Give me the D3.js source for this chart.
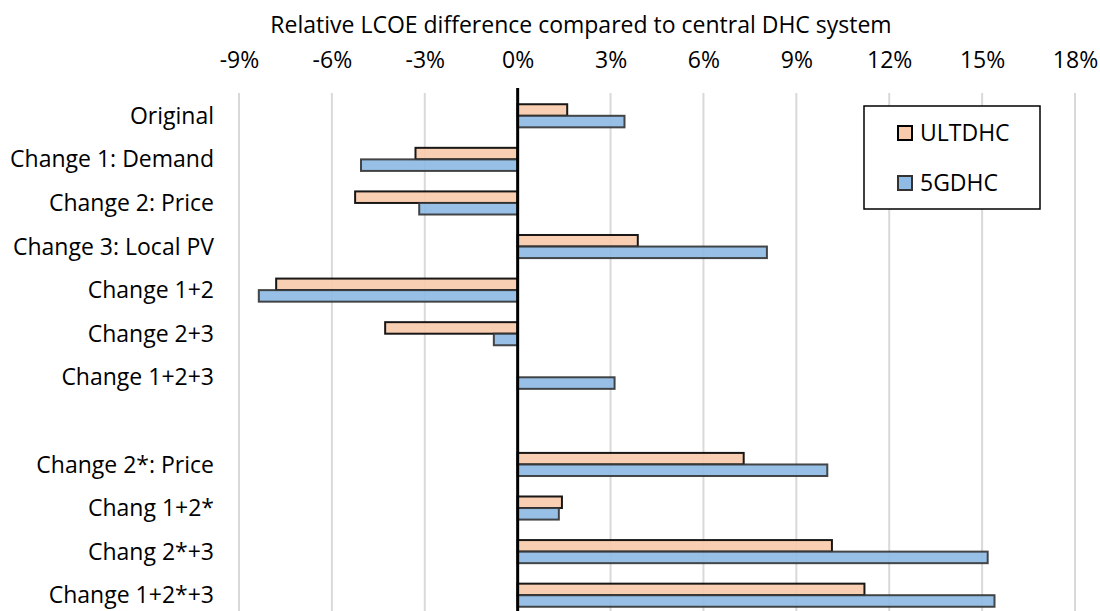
<!DOCTYPE html>
<html><head><meta charset="utf-8">
<script src="https://cdn.jsdelivr.net/npm/d3@7"></script>
<style>body{margin:0;background:#fff;} svg{display:block;}</style>
</head><body>
<svg id="c" width="1100" height="611"></svg>
<script>
const categories = ["Original","Change 1: Demand","Change 2: Price","Change 3: Local PV","Change 1+2","Change 2+3","Change 1+2+3"," ","Change 2*: Price","Chang 1+2*","Chang 2*+3","Change 1+2*+3"];
const ultdhc = [1.6,-3.3,-5.25,3.88,-7.8,-4.28,0,null,7.3,1.43,10.15,11.2];
const gdhc5 = [3.45,-5.06,-3.18,8.05,-8.36,-0.77,3.13,null,10.0,1.33,15.18,15.4];
const seriesNames = ["ULTDHC","5GDHC"];
const tickValues = [-9,-6,-3,0,3,6,9,12,15,18];
const title = "Relative LCOE difference compared to central DHC system";
const colors = ["#f8cbad","#8fbbe5"];
const strokes = ["#000000","#333333"];

const font = "'Open Sans', sans-serif";
const fs = 23;
const svg = d3.select("#c");
const x = d3.scaleLinear().domain([-9,18]).range([239,1075]);
const y = d3.scaleBand().domain(categories).range([94,617]).paddingInner(0.47).paddingOuter(0.235);
const sub = d3.scaleBand().domain(seriesNames).range([0,y.bandwidth()]);

// gridlines
svg.append("g").selectAll("line").data(tickValues.filter(d=>d!==0)).join("line")
  .attr("x1",d=>x(d)).attr("x2",d=>x(d)).attr("y1",93).attr("y2",611)
  .attr("stroke","#d9d9d9").attr("stroke-width",2);

// top axis labels
const ax = svg.append("g").attr("transform","translate(0,60)")
  .call(d3.axisTop(x).tickValues(tickValues).tickFormat(d=>d+"%").tickSize(0).tickPadding(0));
ax.select(".domain").remove();
ax.selectAll("text").attr("font-family",font).attr("font-size",fs).attr("fill","#000").attr("dy","0.35em");

svg.append("text").attr("x",581).attr("y",25).attr("dy","0.35em").attr("text-anchor","middle")
  .attr("font-family",font).attr("font-size",fs).text(title);

// category labels
svg.append("g").selectAll("text").data(categories).join("text")
  .attr("x",214).attr("y",d=>y(d)+y.bandwidth()/2).attr("dy","0.35em").attr("text-anchor","end")
  .attr("font-family",font).attr("font-size",fs).text(d=>d);

// bars
const series = [ultdhc,gdhc5];
series.forEach((vals,si)=>{
  svg.append("g").selectAll("rect").data(categories.map((c,i)=>({c,v:vals[i]})).filter(d=>d.v!==null && d.v!==0)).join("rect")
    .attr("x",d=>x(Math.min(0,d.v))).attr("width",d=>Math.abs(x(d.v)-x(0)))
    .attr("y",d=>y(d.c)+sub(seriesNames[si])).attr("height",sub.bandwidth())
    .attr("fill",colors[si]).attr("fill-opacity",0.92)
    .attr("stroke",strokes[si]).attr("stroke-opacity",0.9).attr("stroke-width",2);
});

// zero line
svg.append("line").attr("x1",x(0)).attr("x2",x(0)).attr("y1",88).attr("y2",611)
  .attr("stroke","#000").attr("stroke-width",3);

// legend
const lg = svg.append("g");
lg.append("rect").attr("x",864).attr("y",106).attr("width",176).attr("height",103)
  .attr("fill","#fff").attr("stroke","#000").attr("stroke-width",1.5);
seriesNames.forEach((n,i)=>{
  const cy = 133 + i*50;
  lg.append("rect").attr("x",898).attr("y",cy-7).attr("width",14).attr("height",14)
    .attr("fill",colors[i]).attr("stroke",strokes[i]).attr("stroke-width",2);
  lg.append("text").attr("x",920).attr("y",cy).attr("dy","0.35em")
    .attr("font-family",font).attr("font-size",fs).text(n);
});
</script>
</body></html>
